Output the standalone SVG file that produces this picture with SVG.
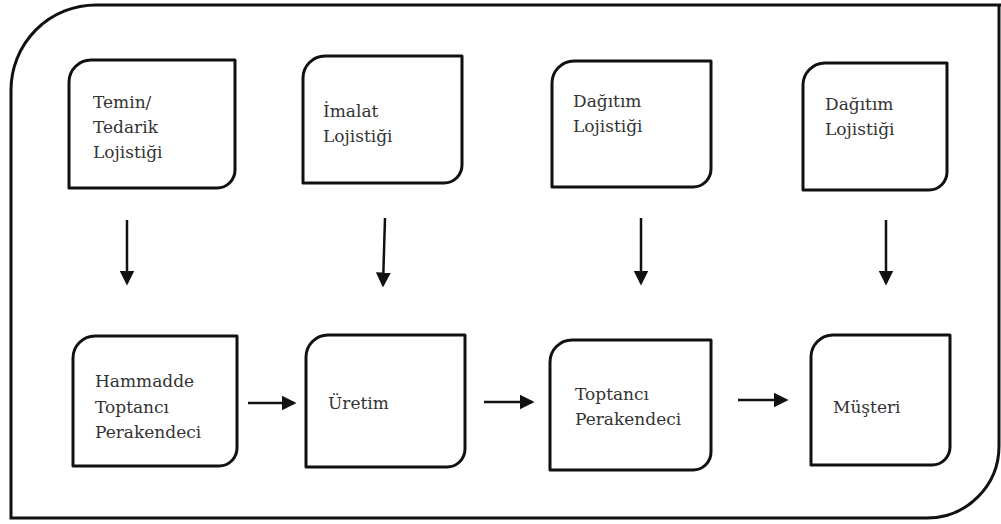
<svg xmlns="http://www.w3.org/2000/svg" width="1001" height="524" viewBox="0 0 1001 524">
<style>
.box{fill:#fff;stroke:#111;stroke-width:3;stroke-linejoin:round}
.outer{fill:none;stroke:#111;stroke-width:3}
.c{stroke:#111;stroke-width:2.5;fill:none}
</style>
<defs>
<marker id="ah" markerWidth="6" markerHeight="6" refX="5" refY="3" orient="auto" markerUnits="strokeWidth" viewBox="0 0 6 6">
<path d="M0,0 L6,3 L0,6 Z" fill="#111"/>
</marker>
</defs>
<rect width="1001" height="524" fill="#fff"/>
<path class="outer" d="M11,90 A85,85 0 0 1 96,5 H1003 M999,5 V446 A72,72 0 0 1 927,518 H11 V90"/>
<g font-family="DejaVu Serif, Liberation Serif, serif" font-size="17" fill="#333">
<g id="n1"><path class="box" d="M69,82 A22,22 0 0 1 91,60 H235 V170 A18,18 0 0 1 217,188 H69 Z"/>
<text x="93" y="108">Temin/</text><text x="93" y="133">Tedarik</text><text x="93" y="158">Lojistiği</text></g>
<g id="n2"><path class="box" d="M303,78 A22,22 0 0 1 325,56 H462 V165 A18,18 0 0 1 444,183 H303 Z"/>
<text x="323" y="117">İmalat</text><text x="323" y="142">Lojistiği</text></g>
<g id="n3"><path class="box" d="M552,83 A22,22 0 0 1 574,61 H711 V169 A18,18 0 0 1 693,187 H552 Z"/>
<text x="573" y="107">Dağıtım</text><text x="573" y="132">Lojistiği</text></g>
<g id="n4"><path class="box" d="M803,85 A22,22 0 0 1 825,63 H947 V172 A18,18 0 0 1 929,190 H803 Z"/>
<text x="825" y="110">Dağıtım</text><text x="825" y="135">Lojistiği</text></g>
<g id="n5"><path class="box" d="M73,358 A22,22 0 0 1 95,336 H237 V448 A18,18 0 0 1 219,466 H73 Z"/>
<text x="95" y="387">Hammadde</text><text x="95" y="413">Toptancı</text><text x="95" y="438">Perakendeci</text></g>
<g id="n6"><path class="box" d="M306,357 A22,22 0 0 1 328,335 H465 V449 A18,18 0 0 1 447,467 H306 Z"/>
<text x="328" y="409">Üretim</text></g>
<g id="n7"><path class="box" d="M550,362 A22,22 0 0 1 572,340 H711 V452 A18,18 0 0 1 693,470 H550 Z"/>
<text x="575" y="400">Toptancı</text><text x="575" y="425">Perakendeci</text></g>
<g id="n8"><path class="box" d="M811,357 A22,22 0 0 1 833,335 H950 V447 A18,18 0 0 1 932,465 H811 Z"/>
<text x="833" y="413">Müşteri</text></g>
</g>
<g id="connectors">
<path class="c" marker-end="url(#ah)" d="M127,220 V283"/>
<path class="c" marker-end="url(#ah)" d="M385,218 L383,285"/>
<path class="c" marker-end="url(#ah)" d="M641,218 V283"/>
<path class="c" marker-end="url(#ah)" d="M886,220 V283"/>
<path class="c" marker-end="url(#ah)" d="M248,403 H294"/>
<path class="c" marker-end="url(#ah)" d="M484,402 H532"/>
<path class="c" marker-end="url(#ah)" d="M738,400 H786"/>
</g>
</svg>
